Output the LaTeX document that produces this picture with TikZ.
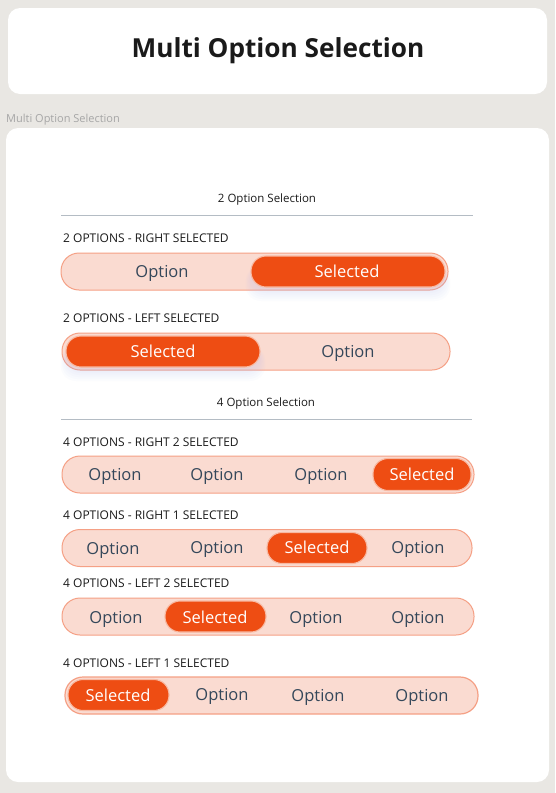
\documentclass[tikz,border=0pt]{standalone}
\usepackage{fontspec}
\setmainfont{Open Sans}
\usetikzlibrary{positioning}
\definecolor{bgc}{HTML}{E9E7E3}
\definecolor{pillfill}{HTML}{FADBD1}
\definecolor{pillline}{HTML}{F5A085}
\definecolor{selfill}{HTML}{EE4D13}
\definecolor{selline}{HTML}{F8B9A2}
\definecolor{opttext}{HTML}{34475A}
\definecolor{labeltext}{HTML}{1A1A1A}
\definecolor{rulec}{HTML}{B4BCC4}
\definecolor{grayc}{HTML}{A6A6A6}
\definecolor{glowc}{HTML}{B4BCF8}

\begin{document}
\begin{tikzpicture}[x=1pt, y=-1pt,
  pill/.style={draw=pillline, fill=pillfill, rounded corners=18pt, minimum height=37pt, inner sep=0pt, line width=1pt},
  sel/.style={draw=selline, fill=selfill, rounded corners=15pt, minimum height=31pt, inner sep=0pt, line width=1.1pt},
  opt/.style={anchor=base, text=opttext, font=\fontsize{16.5}{19}\selectfont},
  seltxt/.style={anchor=base, text=white, font=\fontsize{16.5}{19}\selectfont},
  caps/.style={anchor=west, inner sep=0pt, text=labeltext, font=\fontsize{12}{14}\selectfont},
  head/.style={text=labeltext, font=\fontsize{11.5}{13}\selectfont},
  rule/.style={draw=rulec, line width=0.8pt}]
\useasboundingbox (0,0) rectangle (555,793);
\fill[bgc] (0,0) rectangle (555,793);
% cards
\fill[white, rounded corners=12pt] (8,8) rectangle (547,94);
\fill[white, rounded corners=12pt] (6,128) rectangle (549,782);
\node[text=labeltext, font=\bfseries\fontsize{26.2}{30}\selectfont] (title) at (278,51) {Multi Option Selection};
\node[anchor=west, inner sep=0pt, text=grayc, font=\fontsize{11}{13}\selectfont] (frame) at (6,120) {Multi Option Selection};

% 2 options
\node[head] (head2) at (267,200) {2 Option Selection};
\draw[rule] (61,215) -- (473,215);

\node[caps] (lab1) at (63,238) {2 OPTIONS - RIGHT SELECTED};
\node[pill, minimum width=387pt] (pill1) at (254.5,271.5) {};
\foreach \g in {2,4,...,12}
  \fill[glowc, opacity=0.045, rounded corners=15pt] ({253-0.6*\g},{266}) rectangle ({443+0.6*\g},{289+\g});
\node[sel, minimum width=194pt] (sel1) at (348,271.5) {};
\node[opt] (opt1a) at (162,277) {Option};
\node[seltxt] (opt1b) at (347,277) {Selected};

\node[caps] (lab2) at (63,318) {2 OPTIONS - LEFT SELECTED};
\node[pill, minimum width=388pt] (pill2) at (256,351.5) {};
\foreach \g in {2,4,...,12}
  \fill[glowc, opacity=0.045, rounded corners=15pt] ({68-0.6*\g},{346}) rectangle ({258+0.6*\g},{369+\g});
\node[sel, minimum width=194pt] (sel2) at (163,351.5) {};
\node[seltxt] (opt2a) at (163,357) {Selected};
\node[opt] (opt2b) at (348,357) {Option};

% 4 options
\node[head] (head4) at (266,404) {4 Option Selection};
\draw[rule] (61,419) -- (472,419);

\node[caps] (lab3) at (63,442) {4 OPTIONS - RIGHT 2 SELECTED};
\node[pill, minimum width=412pt] (pill3) at (268,474.5) {};
\node[sel, minimum width=98pt, minimum height=32pt] (sel3) at (422,474.5) {};
\node[opt] (opt3a) at (115,480) {Option};
\node[opt] (opt3b) at (217,480) {Option};
\node[opt] (opt3c) at (321,480) {Option};
\node[seltxt] (opt3d) at (422,480) {Selected};

\node[caps] (lab4) at (63,515) {4 OPTIONS - RIGHT 1 SELECTED};
\node[pill, minimum width=410pt] (pill4) at (267,548) {};
\node[sel, minimum width=100pt] (sel4) at (317,548) {};
\node[opt] (opt4a) at (113,554) {Option};
\node[opt] (opt4b) at (217,553) {Option};
\node[seltxt] (opt4c) at (317,553) {Selected};
\node[opt] (opt4d) at (418,553) {Option};

\node[caps] (lab5) at (63,583) {4 OPTIONS - LEFT 2 SELECTED};
\node[pill, minimum width=412pt] (pill5) at (268,616.5) {};
\node[sel, minimum width=101pt] (sel5) at (215.5,616.5) {};
\node[opt] (opt5a) at (116,623) {Option};
\node[seltxt] (opt5b) at (215,623) {Selected};
\node[opt] (opt5c) at (316,623) {Option};
\node[opt] (opt5d) at (418,623) {Option};

\node[caps] (lab6) at (63,663) {4 OPTIONS - LEFT 1 SELECTED};
\node[pill, minimum width=413pt, line width=1.2pt] (pill6) at (271.5,695.5) {};
\node[sel, minimum width=101pt] (sel6) at (118.5,695) {};
\node[seltxt] (opt6a) at (118,701) {Selected};
\node[opt] (opt6b) at (222,700) {Option};
\node[opt] (opt6c) at (318,701) {Option};
\node[opt] (opt6d) at (422,701) {Option};
\end{tikzpicture}
\end{document}
